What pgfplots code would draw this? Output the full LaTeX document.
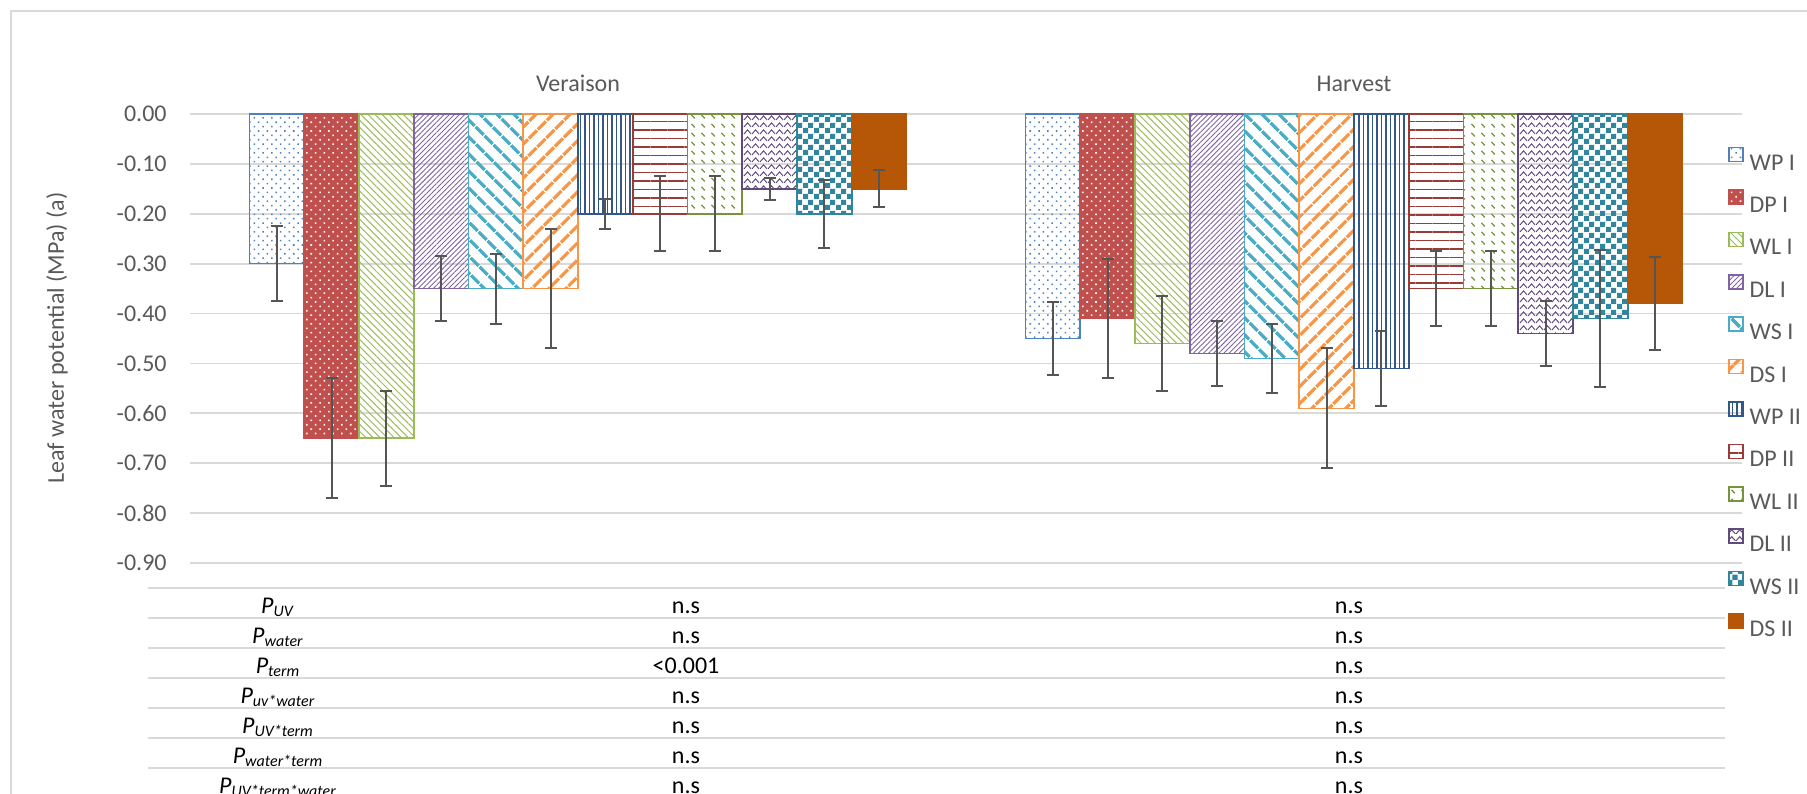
\documentclass[border=0pt]{standalone}
\usepackage{fontspec}
\setmainfont{Carlito}
\usepackage{pgfplots}
\pgfplotsset{compat=1.18}
\usetikzlibrary{patterns,patterns.meta}

% series colours
\definecolor{c1}{HTML}{4F81BD}
\definecolor{c2}{HTML}{C0504D}
\definecolor{c3}{HTML}{9BBB59}
\definecolor{c4}{HTML}{8064A2}
\definecolor{c5}{HTML}{4BACC6}
\definecolor{c6}{HTML}{F79646}
\definecolor{c7}{HTML}{34578A}
\definecolor{c8}{HTML}{9B3B38}
\definecolor{c9}{HTML}{77933C}
\definecolor{c10}{HTML}{604A7B}
\definecolor{c11}{HTML}{31859C}
\definecolor{c12}{HTML}{B65708}
\definecolor{textgray}{HTML}{595959}
\definecolor{gridgray}{HTML}{D9D9D9}
\definecolor{errgray}{HTML}{555555}

% fill patterns that the standard set lacks
\tikzdeclarepattern{
  name=zigzag, type=uncolored,
  bounding box={(0,0) and (4pt,3.5pt)},
  tile size={(4pt,3.5pt)},
  code={\draw[line width=0.55pt] (0,0.6pt) -- (2pt,2.9pt) -- (4pt,0.6pt);}
}
\tikzdeclarepattern{
  name=dashdiag, type=uncolored,
  bounding box={(0,0) and (5pt,4.25pt)},
  tile size={(5pt,4.25pt)},
  code={\draw[line width=0.7pt] (0.8pt,3.2pt) -- (2.6pt,1.4pt);}
}
\tikzdeclarepattern{
  name=checks, type=uncolored,
  bounding box={(0,0) and (5.5pt,5.5pt)},
  tile size={(5.5pt,5.5pt)},
  code={\fill (0,0) rectangle (2.75pt,2.75pt); \fill (2.75pt,2.75pt) rectangle (5.5pt,5.5pt);}
}

\newcommand{\labfont}{\fontsize{12}{14}\selectfont}
\newcommand{\Pv}[1]{\textit{P}\textsubscript{\textit{#1}}}

\begin{document}
\begin{tikzpicture}
\useasboundingbox (0,0) rectangle (903.5pt,-396.5pt);

% chart frame
\draw[gridgray, line width=1pt] (5.5pt,-400pt) -- (5.5pt,-5.5pt) -- (910pt,-5.5pt);

\begin{axis}[
  at={(95pt,-57pt)}, anchor=north west,
  width=776pt, height=224.5pt, scale only axis,
  xmin=-0.5, xmax=1.5, ymin=-0.9, ymax=0,
  clip=false,
  ybar=0pt, bar width=27.375pt,
  xtick=\empty,
  ytick={-0.9,-0.8,-0.7,-0.6,-0.5,-0.4,-0.3,-0.2,-0.1,0},
  y tick label style={/pgf/number format/fixed, /pgf/number format/fixed zerofill,
    /pgf/number format/precision=2, /pgf/number format/assume math mode=true,
    anchor=east, inner sep=0pt, text=textgray, font=\labfont},
  yticklabel shift=11.5pt,
  major tick length=0pt,
  axis line style={draw=none},
  ymajorgrids, grid style={gridgray, line width=0.9pt},
  error bars/y dir=both, error bars/y explicit,
  error bars/error bar style={errgray, line width=1pt, solid},
  error bars/error mark options={rotate=90, mark size=3pt, errgray, line width=1pt, solid},
  legend image code/.code={\draw[#1] (0pt,0.3pt) rectangle (7pt,7.3pt);},
  legend cell align=left,
  legend style={draw=none, fill=none, inner sep=0pt, outer sep=0pt,
    anchor=north west, at={(0.991,0.927)},
    nodes={inner sep=0pt, text height=8pt, text depth=0pt, text=textgray},
    row sep=9.5pt, column sep=3pt, font=\labfont},
]
% Veraison (x=0) and Harvest (x=1)
\addplot[draw=c1, line width=0.8pt, pattern={Dots[angle=45,distance=3.1pt,radius=0.55pt]}, pattern color=c1]
  coordinates {(0,-0.30) +- (0,0.075) (1,-0.45) +- (0,0.074)};
\addplot[draw=c2, line width=0.8pt, fill=c2, postaction={pattern={Dots[angle=45,distance=3.1pt,radius=0.55pt]}, pattern color=white}]
  coordinates {(0,-0.65) +- (0,0.12) (1,-0.41) +- (0,0.12)};
\addplot[draw=c3, line width=0.8pt, pattern={Lines[angle=-45,distance=2.5pt,line width=0.5pt]}, pattern color=c3]
  coordinates {(0,-0.65) +- (0,0.095) (1,-0.46) +- (0,0.095)};
\addplot[draw=c4, line width=0.8pt, pattern={Lines[angle=45,distance=1.8pt,line width=0.45pt]}, pattern color=c4]
  coordinates {(0,-0.35) +- (0,0.065) (1,-0.48) +- (0,0.065)};
\addplot[draw=c5, line width=0.8pt, pattern={Lines[angle=-45,distance=6.4pt,line width=1.9pt]}, pattern color=c5]
  coordinates {(0,-0.35) +- (0,0.07) (1,-0.49) +- (0,0.07)};
\addplot[draw=c6, line width=0.8pt, pattern={Lines[angle=45,distance=6.4pt,line width=1.9pt]}, pattern color=c6]
  coordinates {(0,-0.35) +- (0,0.12) (1,-0.59) +- (0,0.12)};
\addplot[draw=c7, line width=0.8pt, pattern={Lines[angle=90,distance=2.25pt,line width=0.75pt]}, pattern color=c7]
  coordinates {(0,-0.20) +- (0,0.03) (1,-0.51) +- (0,0.076)};
\addplot[draw=c8, line width=0.8pt, pattern={Lines[angle=0,distance=4.25pt,line width=0.9pt]}, pattern color=c8]
  coordinates {(0,-0.20) +- (0,0.075) (1,-0.35) +- (0,0.075)};
\addplot[draw=c9, line width=0.8pt, pattern=dashdiag, pattern color=c9]
  coordinates {(0,-0.20) +- (0,0.075) (1,-0.35) +- (0,0.075)};
\addplot[draw=c10, line width=0.8pt, pattern=zigzag, pattern color=c10]
  coordinates {(0,-0.15) +- (0,0.022) (1,-0.44) +- (0,0.065)};
\addplot[draw=c11, line width=0.8pt, pattern=checks, pattern color=c11]
  coordinates {(0,-0.20) +- (0,0.068) (1,-0.41) +- (0,0.137)};
\addplot[draw=c12, line width=0.8pt, fill=c12]
  coordinates {(0,-0.15) +- (0,0.037) (1,-0.38) +- (0,0.094)};
\legend{WP I, DP I, WL I, DL I, WS I, DS I, WP II, DP II, WL II, DL II, WS II, DS II}
\end{axis}

% category names above the bars
\node[anchor=base, text=textgray, font=\labfont] at (289pt,-45.75pt) {Veraison};
\node[anchor=base, text=textgray, font=\labfont] at (677pt,-45.75pt) {Harvest};

% value axis title
\node[rotate=90, text=textgray, font=\labfont] at (28.5pt,-169pt) {Leaf water potential (MPa) (a)};

% significance table below the chart
\foreach \k in {0,...,6}
  \draw[gridgray, line width=0.9pt] (74pt,{-294pt-15pt*\k}) -- (862.5pt,{-294pt-15pt*\k});
\begin{scope}[every node/.style={anchor=base, font=\labfont, text=black, inner sep=0pt}]
  \node at (139pt,-306.5pt) {\Pv{UV}};
  \node at (139pt,-321.5pt) {\Pv{water}};
  \node at (139pt,-336.5pt) {\Pv{term}};
  \node at (139pt,-351.5pt) {\Pv{uv*water}};
  \node at (139pt,-366.5pt) {\Pv{UV*term}};
  \node at (139pt,-381.5pt) {\Pv{water*term}};
  \node at (139pt,-396.5pt) {\Pv{UV*term*water}};
  \node at (343pt,-306.5pt) {n.s};
  \node at (343pt,-321.5pt) {n.s};
  \node at (343pt,-336.5pt) {<0.001};
  \node at (343pt,-351.5pt) {n.s};
  \node at (343pt,-366.5pt) {n.s};
  \node at (343pt,-381.5pt) {n.s};
  \node at (343pt,-396.5pt) {n.s};
  \node at (674.5pt,-306.5pt) {n.s};
  \node at (674.5pt,-321.5pt) {n.s};
  \node at (674.5pt,-336.5pt) {n.s};
  \node at (674.5pt,-351.5pt) {n.s};
  \node at (674.5pt,-366.5pt) {n.s};
  \node at (674.5pt,-381.5pt) {n.s};
  \node at (674.5pt,-396.5pt) {n.s};
\end{scope}
\end{tikzpicture}
\end{document}
